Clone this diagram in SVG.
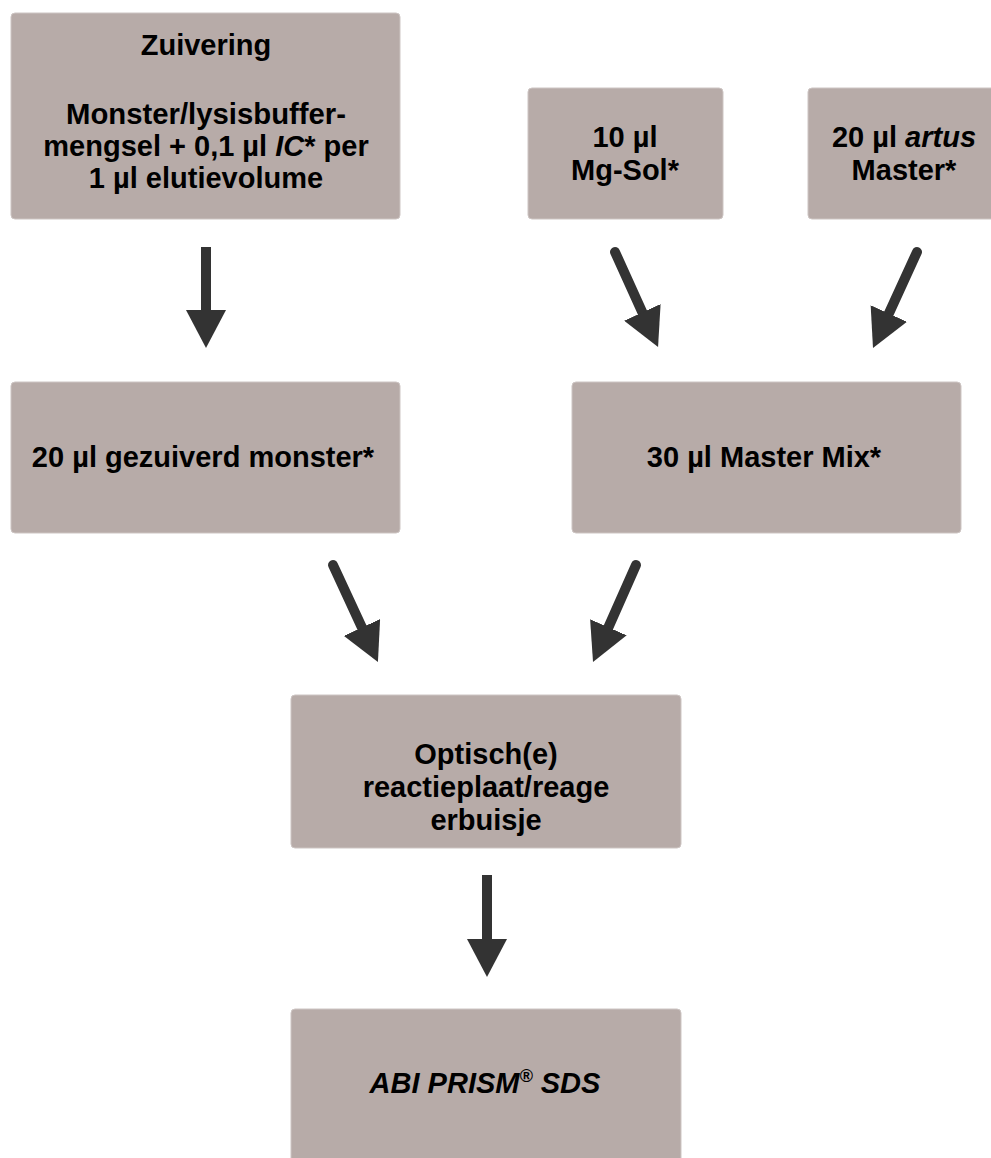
<svg xmlns="http://www.w3.org/2000/svg" width="991" height="1158" viewBox="0 0 991 1158">
  <style>
    .box { fill: #b7aba8; stroke: #cdc5c3; stroke-width: 1; }
    .t { font-family: "Liberation Sans", Arial, sans-serif; font-weight: bold; font-size: 29px; text-anchor: middle; fill: #000; }
    .it { font-style: italic; }
    .sup { font-size: 18px; }
    .shaft { stroke: #333333; stroke-width: 10; fill: none; }
    .diag { stroke-linecap: round; }
  </style>
  <defs>
    <marker id="ah" markerUnits="userSpaceOnUse" markerWidth="38" markerHeight="40" viewBox="0 0 38 40" refX="2" refY="20" orient="auto">
      <path d="M0,0 L38,20 L0,40 Z" fill="#333333"/>
    </marker>
  </defs>
  <rect width="991" height="1158" fill="#ffffff"/>

  <g id="node-zuivering">
    <rect class="box" x="11" y="13" width="389" height="206" rx="4"/>
    <text class="t" x="206" y="55">Zuivering</text>
    <text class="t" x="206" y="124" textLength="280" lengthAdjust="spacingAndGlyphs">Monster/lysisbuffer-</text>
    <text class="t" x="206" y="156">mengsel + 0,1 µl <tspan class="it">IC</tspan>* per</text>
    <text class="t" x="206" y="188">1 µl elutievolume</text>
  </g>

  <g id="node-mgsol">
    <rect class="box" x="528" y="88" width="195" height="131" rx="4"/>
    <text class="t" x="625" y="147">10 µl</text>
    <text class="t" x="625" y="180">Mg-Sol*</text>
  </g>

  <g id="node-artus">
    <rect class="box" x="808" y="88" width="195" height="131" rx="4"/>
    <text class="t" x="904" y="147">20 µl <tspan class="it">artus</tspan></text>
    <text class="t" x="904" y="180">Master*</text>
  </g>

  <g id="node-gezuiverd">
    <rect class="box" x="11" y="382" width="389" height="151" rx="4"/>
    <text class="t" x="203" y="467">20 µl gezuiverd monster*</text>
  </g>

  <g id="node-mastermix">
    <rect class="box" x="572" y="382" width="389" height="151" rx="4"/>
    <text class="t" x="764" y="467">30 µl Master Mix*</text>
  </g>

  <g id="node-optisch">
    <rect class="box" x="291" y="695" width="390" height="153" rx="4"/>
    <text class="t" x="486" y="764">Optisch(e)</text>
    <text class="t" x="486" y="797">reactieplaat/reage</text>
    <text class="t" x="486" y="830">erbuisje</text>
  </g>

  <g id="node-abi">
    <rect class="box" x="291" y="1009" width="390" height="160" rx="4"/>
    <text class="t it" x="485" y="1093">ABI PRISM<tspan class="sup" dy="-11">®</tspan><tspan dy="11"> SDS</tspan></text>
  </g>

  <g id="connectors">
    <line class="shaft" x1="206" y1="247" x2="206" y2="312" marker-end="url(#ah)"/>
    <line class="shaft diag" x1="615" y1="252" x2="643.2" y2="314.2" marker-end="url(#ah)"/>
    <line class="shaft diag" x1="917" y1="252" x2="888" y2="315.3" marker-end="url(#ah)"/>
    <line class="shaft diag" x1="333" y1="565" x2="362.8" y2="629.3" marker-end="url(#ah)"/>
    <line class="shaft diag" x1="636" y1="565" x2="607.6" y2="629.1" marker-end="url(#ah)"/>
    <line class="shaft" x1="487" y1="875" x2="487" y2="941" marker-end="url(#ah)"/>
  </g>
</svg>
